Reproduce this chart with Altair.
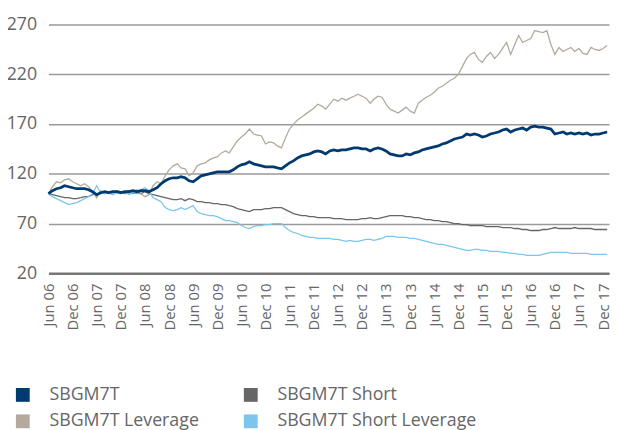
import altair as alt
import pandas as pd

# monthly observations, Jun 2006 .. Jan 2018
dates = pd.date_range("2006-06-01", periods=140, freq="MS").strftime("%Y-%m-%d").tolist()

sbgm7t = [100,103,105,106,108,107,106,105,105,105,104,102,99,101,102,101,102,102,101,102,
          102,103,102,103,103,102,104,106,110,113,115,116,116,117,116,113,112,115,118,119,
          120,121,122,122,122,122,124,127,129,130,132,130,129,128,127,127,127,126,125,128,
          131,133,136,138,139,140,142,143,142,140,143,144,143,144,144,145,146,146,145,145,
          143,145,146,145,143,140,139,138,138,140,139,141,142,144,145,146,147,148,150,151,
          153,155,156,157,160,159,160,159,157,158,160,161,162,164,165,162,164,165,166,164,
          167,168,167,167,166,165,160,161,162,160,161,160,161,160,161,159,160,160,161,162]

sbgm7t_leverage = [100,107,112,111,114,115,112,110,108,110,107,102,96,103,100,102,101,103,102,101,
                   103,102,104,100,97,99,108,112,110,118,124,128,130,126,125,118,121,128,130,131,
                   134,136,137,141,143,141,147,153,157,160,165,160,159,158,150,152,151,148,146,156,
                   165,170,174,177,180,183,186,190,188,185,190,195,193,196,194,196,198,200,198,196,
                   191,195,198,197,190,185,183,181,184,187,183,181,191,194,197,199,202,206,208,211,
                   214,216,220,228,236,240,242,235,232,238,242,236,240,246,252,240,250,259,252,254,
                   256,264,263,262,264,250,240,247,243,245,247,243,246,241,240,247,245,244,246,249]

sbgm7t_short = [100,99,98,97,96,96,95,95,96,97,97,99,100,100,101,100,101,101,101,100,
                101,100,101,100,102,100,99,98,97,96,95,94,94,95,93,95,94,92,92,91,
                91,90,90,89,89,88,87,85,84,83,82,84,84,84,85,85,86,86,86,84,
                82,80,79,78,78,77,77,76,76,76,76,75,75,75,74,74,74,74,75,75,
                76,75,75,76,77,78,78,78,78,77,77,76,76,75,74,74,73,73,72,72,
                71,70,70,69,69,68,68,68,68,67,67,67,67,66,66,66,65,65,64,64,
                63,63,63,64,64,65,66,65,65,65,65,66,65,65,65,65,64,64,64,64]

sbgm7t_short_leverage = [100,97,95,93,91,89,90,91,93,95,97,100,108,101,100,101,99,101,100,102,
                         99,101,100,104,106,103,96,94,92,86,84,83,84,86,84,86,88,82,80,79,
                         78,78,77,75,73,73,72,71,68,66,65,67,68,68,69,69,70,70,70,66,
                         63,61,60,58,57,56,56,55,55,55,55,54,54,53,52,53,52,52,53,54,
                         54,53,54,55,57,57,57,56,56,56,55,55,54,53,52,51,50,49,49,48,
                         47,46,45,44,43,43,44,44,43,43,42,42,42,41,41,40,40,39,39,38,
                         38,38,38,39,40,41,41,41,41,41,40,40,40,40,40,39,39,39,39,39]

series_names = ["SBGM7T", "SBGM7T Short", "SBGM7T Leverage", "SBGM7T Short Leverage"]
series_colors = ["#003a70", "#666666", "#b3aa9d", "#7cc6ee"]
y_ticks = [20, 70, 120, 170, 220, 270]

tick_dates = [alt.DateTime(year=y, month=m, date=1, utc=True)
              for y in range(2006, 2018) for m in (6, 12)]

rows = []
for name, vals in zip(series_names,
                      [sbgm7t, sbgm7t_short, sbgm7t_leverage, sbgm7t_short_leverage]):
    for d, v in zip(dates, vals):
        rows.append({"date": d, "value": v, "series": name})
df = pd.DataFrame(rows)

FONT = "Open Sans, sans-serif"
TXT = "#666666"

color = alt.Color(
    "series:N",
    scale=alt.Scale(domain=series_names, range=series_colors),
    legend=alt.Legend(
        title=None, orient="none", legendX=-35, legendY=366, columns=2,
        direction="horizontal",
        symbolType="square", symbolSize=49, symbolStrokeWidth=7,
        labelFontSize=18, labelFont=FONT, labelColor=TXT, labelOffset=18,
        columnPadding=34, rowPadding=-9, padding=0, labelLimit=300,
    ),
)

x = alt.X(
    "date:T",
    scale=alt.Scale(type="utc",
                    domain=[alt.DateTime(year=2006, month=6, date=1, utc=True),
                            alt.DateTime(year=2018, month=1, date=15, utc=True)]),
    axis=alt.Axis(
        title=None, values=tick_dates, labelExpr="utcFormat(datum.value, '%b %y')",
        labelAngle=-90, labelAlign="right", labelBaseline="middle",
        labelFontSize=15, labelFont=FONT, labelColor=TXT, labelPadding=10,
        ticks=False, grid=False, domain=True, domainColor="#777777", domainWidth=2.5,
        labelOverlap=False, labelBound=False,
    ),
)
y = alt.Y(
    "value:Q",
    scale=alt.Scale(domain=[20, 270], nice=False, zero=False),
    axis=alt.Axis(
        title=None, values=y_ticks, ticks=False, domain=False,
        grid=True, gridColor="#9a9a9a", gridWidth=1.5,
        labelFontSize=18, labelFont=FONT, labelColor=TXT, labelPadding=12,
    ),
)

base = alt.Chart(df)
thin = base.transform_filter(alt.datum.series != "SBGM7T").mark_line(strokeWidth=1.3).encode(
    x=x, y=y, color=color, detail="series:N")
thick = base.transform_filter(alt.datum.series == "SBGM7T").mark_line(strokeWidth=2.8).encode(
    x=x, y=y, color=color)

chart = alt.layer(thin, thick).properties(
    width=568, height=252,
    autosize=alt.AutoSizeParams(type="none"),
    padding={"left": 41, "top": 14, "right": 1, "bottom": 156},
).configure_view(stroke=None)

chart.save("out.html", embed_options={"renderer": "svg", "actions": False})
